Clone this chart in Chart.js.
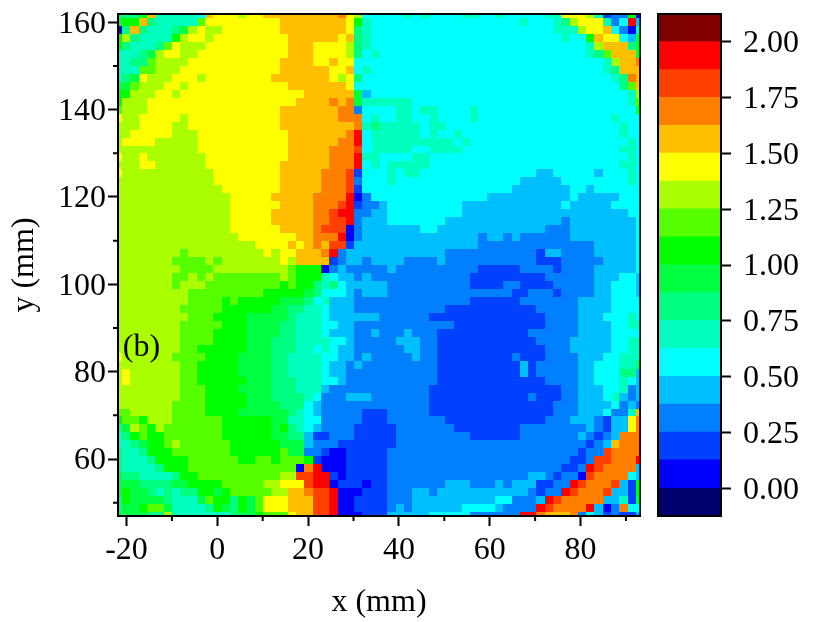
<!DOCTYPE html>
<html>
<head>
<meta charset="utf-8">
<title>Map (b)</title>
<script src="https://cdn.jsdelivr.net/npm/chart.js@4/dist/chart.umd.min.js"></script>
<style>
  body { margin: 0; background: #fff; }
  canvas { position: absolute; left: 0; top: 0; }
</style>
</head>
<body>
<canvas id="map" width="830" height="622"></canvas>
<canvas id="bar" width="830" height="622"></canvas>
<script>
// one letter per colour band, A is the lowest band, R the highest
const bandColors = ['#00006e', '#0000ff', '#0040ff', '#0080ff', '#00bfff', '#00ffff', '#00ffbf', '#00ff80', '#00ff40',
  '#00ff00', '#55ff00', '#aaff00', '#ffff00', '#ffbf00', '#ff8000', '#ff4000', '#ff0000', '#800000'];
const bandLow = -0.125;
const bandStep = 0.125;

const xStart = -21.87;
const yStart = 161.9;
const gridStep = 1.825;

const xTicks = [-20, 0, 20, 40, 60, 80];
const xMinorTicks = [-10, 10, 30, 50, 70, 90];
const yTicks = [60, 80, 100, 120, 140, 160];
const yMinorTicks = [50, 70, 90, 110, 130, 150];
const barTicks = [0, 0.25, 0.5, 0.75, 1, 1.25, 1.5, 1.75, 2];

// run lengths, columns 0-32 / rows 0-31
const upperLeft = [
'I1H2J1N1G5F1N1M3L1M2N9O1M1L1F3','I1J2N1H1G5K1M9N8M1J1G1F2','B1H1N1H1G3H1I1L1M1L2M7N8M1H1G1F2','J1L1H1G4J1L1M2L1M9N6M1N1H1G1F2',
'J1H1G3H1K1M1L3M10N3M4L1H1G1F2','G3H1I1L1M2L2M11N3M4L1H1F1G1F1','G2H2K1L4M11N4M2N1M2F4','G3K2L3M12N6M2N1F1G1F2',
'G1H1I1M1L3M3L1M8N7M1L1M1H1F3','I2K1L3M2L1M12N7M1F4','J2L3M2L1M15N6I1E1F2','J1L3M18N4O1N1O1I1G3',
'K1L3M16N7O2D1F3','M1L2M5L1M11N7O3F1G1F1','L3M4L2M11N9O1G1H1G1','L2M5L3M11N7O1Q1F1G2',
'L1M4L5M11N6O2Q1F1G2','L10M11N5O3P1F1G2','M1L2M1L7M10N5O3Q1G2F1','L3M2L6M9N6O3Q1F1G1F1',
'M1L11M8N5O3P1C1F3','L12M8N5O3P1D1F3','L13M7N5O3P1C1F3','L14M5N5O4Q1B1D1F2',
'L14M6N4O3P1Q1C1D2E1','L14M5N5O2P1Q2D2E2','L14M5N5O2P2Q1D1E3','L14M6N4O1P3B1D1E3',
'L15M7N2O3Q1B1D1E3','L17M4N1M1N1O1N1P2C1E4','L8K1L9M1L1M2N3O1Q1D1E5','L7K4L1K1L7M1L1N4C1D1E2D1E2'];

// columns 33-63 / rows 0-31
const upperRight = [
'F2G1F1G1F4G2F2G1F5G2M3L1G1C1D2J1B1','F16G1F3G1H1L1M3G1D1F1Q1E1','F20G3L1M2N1F1D1B1G1','F21G1F2J1N1M2F1E1I1',
'F24G1L1N3H1I1','F24G1H1K1N3I1','F26G1L1N2O1','F26G1H1N3',
'F27G1H1O1N1','F28H1K1N1','F29G1L1','G3F26G1K1',
'F1G2F1G2F4G1F19I1','F1G2F2G1F4G1F16G1F3','G4F1G2F21G1F2','G4F1G1F2G1F19G1F2',
'G8F1G1F19G1F1','G3F2G4F19G2F1','F3G2F24G1F1','G5F23G2F1',
'G1F1G2F14E2F5E1F3G1F1','G1F15E5F8G1F1','F15E7F2E1F6','F12E10F1E5F3',
'F9E12F1E5F4','F9E20F2','F7E14D1E8F1','E4F2E13D3E8F1',
'E11D1E2D1E1D6E8F1','E11D14E5F1','E7D11C1E2D4E5F1','E2D4E1D11C3D5E4F1'];

// columns 0-32 / rows 32-63
const lowerLeft = [
'L8K4L9K1J3B1D1E1D5','L7K2L1K1L1K8L1K1J3G1F1E2D1E1D2','L7K1L3K9J1K1J2H1G1H1F1E5','L9K9J5I1H1F3E1D1E3',
'L9K4J1K1J5I3H1F1G1E3D4','L8K5J6I2H2G2F1E3D4','L9K3J4I5H1G3F1E6D1','L8K5J3I4H2G3F2E2D4',
'L8K4J4I4H2G3F1E3D2E1D1','L8K4J4I3H3G4F2E1D4','L8K2J6I3H3G2F1G1F1E2D4','M1L6K4J4I4H2G4F2E2D1E1D2',
'L8K2J5I4H2G4F1E2D1E1D3','L1M1L6K2J5I4H2G4F1E2D5','L1M1L6K2J6I3H3G3F2E1D5','L8K3J4I4H3G3E1D7',
'L8K3J5I3H4G1F1D3E3D2','L7K4J5I4H3F1E1D8','K2L5K4J4I6H1G1F1E1D5C3','J1K2J1L3K6J6I2G2F2D5C3',
'H1I1L1K1J1L1K7J6I1J1H1G1F1E1D4C4','G1H1J1K1J2K7J6I2H2E1C2D3C4','G2H1I1J2K1L1K6J6I3E1D3C6','H1G2H1J3K7J6K1I2D2C1B2C5',
'H1G3H1J4K6J2K2J1K3J1C1B3C5','H1G4H1J3K13B1O1Q1B3C5','I1H2G4H1J2K10L2P2Q2C1B1C5','I3H4I2J4K5L2M3P1Q2B1C3B1C2',
'I1J1I2H1G1H1G1H2J2I1J1K5L2N2O1P2Q1B3C3','H1J1I4H1G3I1K1J2H1J1I1K1M3N3P2Q1B2C4','H1I2J1K2I1G4H1J1I1H1J1I1K1M3N3P2Q1B2C4','I4H2L1G7H1I2J1K3M1N2P2Q1B3C3'];

// columns 33-63 / rows 32-63
const lowerRight = [
'E1D10C5D4C1D4E5F1','D10C9D6E3F2E1','D10C4D2C4D5E2F3E1','D15C2D3C1D4E2F3E1',
'D10C6D7E4F4','D7C11D5E4F4','D5C14D4E3F3G1F1','D8C11D4E4F2G2',
'D2E1D3C11D6E4F4','D1E3D2C12D4E5F2G2','D2E2D2C13D3E5F2G2','D3E1D2C9D1C3D4E3F2G3',
'D6C10E1C1D5E2F3G2H1','D6C10E1C1D5E2F3H2E1','D6C13D4E2F3G1F1E1','D5C16D2E3F2G1D1E1',
'D5C12D1C3D2E3F1G1E1D1E1','D5C15D3E4F1D1E1D1','D5C15D3E3F1D2G1N1','D7C12D3E3D1C1E2M1O1',
'C1D7C8D8E1D1C1E2M1O1','C1D9C6D7E1D1C1D1E1O3','C1D23C1D1E1N1O3','D23C1D2P1O4',
'D22C2D1P2O3Q1','D21C2D1Q1P1O4E1','D17E2D1C1D2B1P1O4F1E1','D7E3D3E1D1E3C2D2Q1P1O3P1E1C1J1',
'D3E2D1E7E2E2D1C1D2Q1P1O3P1E2C1J1','D3E10F2D3E1Q1P1O5E2G1C1I1','D1E1D1E6F4E1D4Q1P1O4Q1E1B1D1O1F2','E5F5D6Q2O1N3O1D1F1E1C1D1C2E1'];

function expand(runs, width) {
  let out = '';
  for (const part of runs.match(/[A-R]\d+/g)) out += part[0].repeat(Number(part.slice(1)));
  return out.padEnd(width, out[out.length - 1]).slice(0, width);
}

const cells = [];
upperLeft.concat(lowerLeft).forEach((left, i) => {
  const right = i < 32 ? upperRight[i] : lowerRight[i - 32];
  const row = expand(left, 33) + expand(right, 31);
  for (let c = 0; c < row.length; c++) {
    cells.push({ x: xStart + c * gridStep, y: yStart - i * gridStep, v: bandLow + (row.charCodeAt(c) - 65 + 0.5) * bandStep });
  }
});

const serif = 'Liberation Serif';

// drop the room chart.js keeps for half a tick label, the plot box is fixed here
function noLabelPadding(s) {
  s.paddingTop = 0;
  s.paddingBottom = 0;
  s.paddingLeft = 0;
  s.paddingRight = 0;
}

// empty first line + 4px line height moves a y label down 2px
const sideFont = { family: serif, size: 32, lineHeight: '4px' };

const mapPlugin = {
  id: 'mapCells',
  beforeDatasetsDraw(chart) {
    const { ctx, chartArea: a, scales: { x, y } } = chart;
    ctx.save();
    ctx.beginPath();
    ctx.rect(a.left, a.top, a.width, a.height);
    ctx.clip();
    chart.data.datasets[0].data.forEach((p) => {
      const x0 = Math.round(x.getPixelForValue(p.x - gridStep / 2));
      const x1 = Math.round(x.getPixelForValue(p.x + gridStep / 2));
      const y0 = Math.round(y.getPixelForValue(p.y + gridStep / 2));
      const y1 = Math.round(y.getPixelForValue(p.y - gridStep / 2));
      ctx.fillStyle = bandColors[Math.floor((p.v - bandLow) / bandStep)];
      ctx.fillRect(x0, y0, x1 - x0, y1 - y0);
    });
    ctx.restore();
  },
  afterDraw(chart) {
    const { ctx, chartArea: a, scales: { x, y } } = chart;
    ctx.save();
    ctx.strokeStyle = '#000';
    ctx.lineWidth = 2;
    ctx.strokeRect(a.left, a.top, a.width, a.height);
    ctx.beginPath();
    xMinorTicks.forEach((v) => {
      const px = x.getPixelForValue(v);
      ctx.moveTo(px, a.bottom);
      ctx.lineTo(px, a.bottom + 5);
    });
    yMinorTicks.forEach((v) => {
      const py = y.getPixelForValue(v);
      ctx.moveTo(a.left, py);
      ctx.lineTo(a.left - 5, py);
    });
    ctx.stroke();
    ctx.fillStyle = '#000';
    ctx.font = '32px "' + serif + '"';
    ctx.textBaseline = 'alphabetic';
    ctx.fillText('(b)', x.getPixelForValue(-20.8), y.getPixelForValue(83.6));
    ctx.restore();
  }
};

new Chart(document.getElementById('map'), {
  type: 'scatter',
  data: { datasets: [{ data: cells, pointRadius: 0, pointHoverRadius: 0 }] },
  options: {
    responsive: false,
    animation: false,
    layout: { padding: { left: 0, right: 190, top: 14, bottom: 0 } },
    plugins: { legend: { display: false }, tooltip: { enabled: false } },
    scales: {
      x: {
        type: 'linear',
        min: -21.87,
        max: 93.1,
        afterBuildTicks: (s) => { s.ticks = xTicks.map((v) => ({ value: v })); },
        afterFit: (s) => { s.height = 106; noLabelPadding(s); },
        border: { display: false },
        grid: { drawOnChartArea: false, tickLength: 10, tickWidth: 2, tickColor: '#000' },
        ticks: { color: '#000', font: { family: serif, size: 32 }, padding: 5, maxRotation: 0, autoSkip: false },
        title: { display: true, text: 'x (mm)', color: '#000', font: { family: serif, size: 32 }, padding: { top: 14, bottom: 0 } }
      },
      y: {
        type: 'linear',
        min: 46.95,
        max: 161.9,
        afterBuildTicks: (s) => { s.ticks = yTicks.map((v) => ({ value: v })); },
        afterFit: (s) => { s.width = 118; noLabelPadding(s); },
        border: { display: false },
        grid: { drawOnChartArea: false, tickLength: 10, tickWidth: 2, tickColor: '#000' },
        ticks: { color: '#000', font: sideFont, padding: 2, autoSkip: false, callback: (v) => ['', String(v)] },
        title: { display: true, text: 'y (mm)', color: '#000', font: { family: serif, size: 32 }, padding: { top: 5, bottom: 0 } }
      }
    }
  },
  plugins: [mapPlugin]
});

const barFrame = {
  id: 'barFrame',
  afterDraw(chart) {
    const { ctx, chartArea: a } = chart;
    ctx.save();
    ctx.strokeStyle = '#000';
    ctx.lineWidth = 2;
    ctx.strokeRect(a.left, a.top, a.width, a.height);
    ctx.restore();
  }
};

new Chart(document.getElementById('bar'), {
  type: 'bar',
  data: {
    labels: [''],
    datasets: bandColors.map((color, i) => ({
      data: [i === 0 ? bandLow : bandStep],
      backgroundColor: color,
      barPercentage: 1,
      categoryPercentage: 1,
      inflateAmount: 0.6
    }))
  },
  options: {
    responsive: false,
    animation: false,
    layout: { padding: { left: 658, right: 0, top: 14, bottom: 106 } },
    plugins: { legend: { display: false }, tooltip: { enabled: false } },
    scales: {
      x: { stacked: true, display: false },
      y: {
        stacked: true,
        position: 'right',
        min: -0.125,
        max: 2.125,
        afterBuildTicks: (s) => { s.ticks = barTicks.map((v) => ({ value: v })); },
        afterFit: (s) => { s.width = 109; noLabelPadding(s); },
        border: { display: false },
        grid: { drawOnChartArea: false, tickLength: 10, tickWidth: 2, tickColor: '#000' },
        ticks: { color: '#000', font: sideFont, padding: 12, autoSkip: false, callback: (v) => ['', v.toFixed(2)] }
      }
    }
  },
  plugins: [barFrame]
});
</script>
</body>
</html>
